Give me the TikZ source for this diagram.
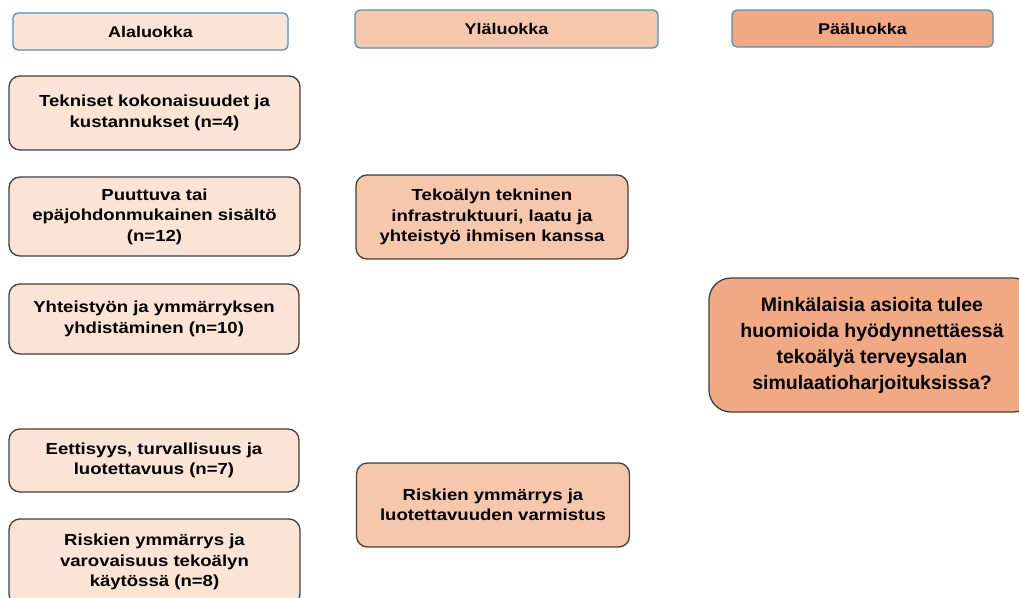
\documentclass[tikz,border=0pt]{standalone}
\usepackage{fontspec}
\setmainfont{Liberation Sans}
\newfontfamily\widesans[FakeStretch=1.16]{Liberation Sans}
\definecolor{alafill}{HTML}{FBE3D6}
\definecolor{ylafill}{HTML}{F7C7AC}
\definecolor{paafill}{HTML}{F1A983}
\definecolor{headline}{HTML}{4E93B8}
\definecolor{boxline}{HTML}{404040}
\begin{document}
\begin{tikzpicture}[x=1pt,y=-1pt,
        header/.style={draw=headline,line width=1.3pt,rounded corners=5pt,inner sep=0pt,
            font=\widesans\fontsize{15.5}{18}\selectfont\bfseries},
        item/.style={draw=boxline,line width=1.3pt,rounded corners=11pt,inner sep=0pt,align=center,
            font=\widesans\fontsize{16}{20.5}\selectfont\bfseries}]
                \clip (0,0) rectangle (1019,597);
                \fill[white] (0,0) rectangle (1019,597);

                \node[header,fill=alafill,minimum width=275pt,minimum height=37pt] (hAla) at (150.5,31.5) { Alaluokka };
                \node[header,fill=ylafill,minimum width=303pt,minimum height=38pt] (hYla) at (506.5,29) { Yläluokka };
                \node[header,fill=paafill,minimum width=261pt,minimum height=37pt] (hPaa) at (862.5,28.5) { Pääluokka };

                \node[item,fill=alafill,minimum width=291pt,minimum height=74pt] (tekniset) at (154.5,113) { Tekniset kokonaisuudet ja\\kustannukset (n=4) };
                \node[item,fill=alafill,minimum width=291pt,minimum height=79pt] (puuttuva) at (154.5,216.5) { Puuttuva tai\\epäjohdonmukainen sisältö\\(n=12) };
                \node[item,fill=alafill,minimum width=290pt,minimum height=70pt] (yhteistyo) at (154,319) { Yhteistyön ja ymmärryksen\\yhdistäminen (n=10) };
                \node[item,fill=alafill,minimum width=290pt,minimum height=63pt] (eettisyys) at (154,460.5) { Eettisyys, turvallisuus ja\\luotettavuus (n=7) };
                \node[item,fill=alafill,minimum width=291pt,minimum height=86pt] (varovaisuus) at (154.5,562) { Riskien ymmärrys ja\\varovaisuus tekoälyn\\käytössä (n=8) };

                \node[item,fill=ylafill,minimum width=272pt,minimum height=84pt] (infra) at (492,217) { Tekoälyn tekninen\\infrastruktuuri, laatu ja\\yhteistyö ihmisen kanssa };
                \node[item,fill=ylafill,minimum width=273pt,minimum height=84pt] (riskit) at (493,505) { Riskien ymmärrys ja\\luotettavuuden varmistus };

                \node[item,fill=paafill,rounded corners=22pt,minimum width=326pt,minimum height=134pt,
                    font=\fontsize{19.5}{26}\selectfont\bfseries] (kysymys) at (872,345)
                    { Minkälaisia asioita tulee\\huomioida hyödynnettäessä\\tekoälyä terveysalan\\simulaatioharjoituksissa? };
            \end{tikzpicture}
\end{document}
